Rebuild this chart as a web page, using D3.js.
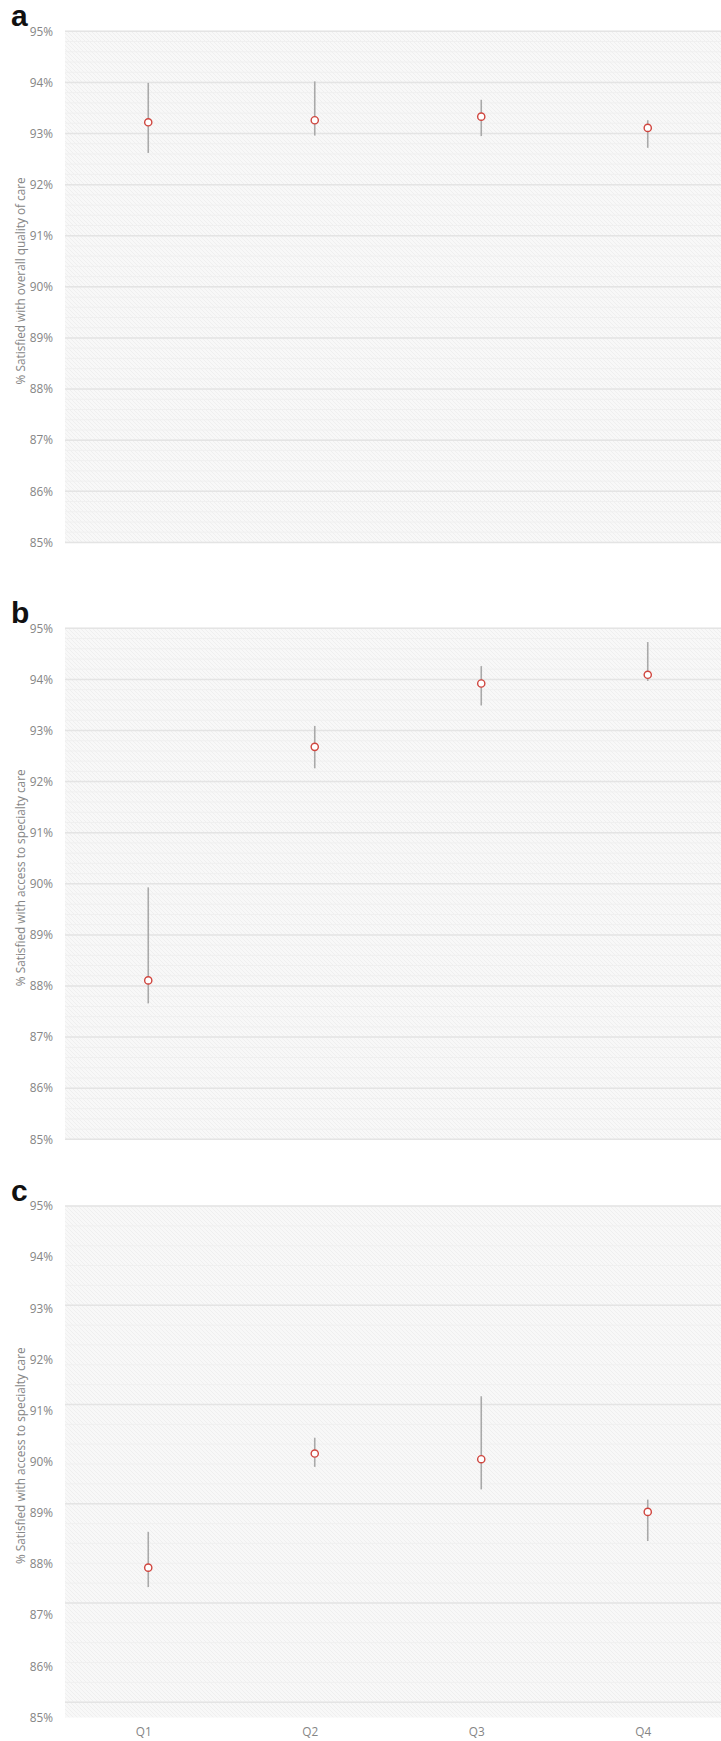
<!DOCTYPE html>
<html>
<head>
<meta charset="utf-8">
<script src="https://cdn.jsdelivr.net/npm/d3@7"></script>
<style>
  body { margin: 0; background: #ffffff; }
  svg { display: block; }
</style>
</head>
<body>
<svg id="chart"></svg>
<script>
let width = 721;
let height = 1741;

// data
let quarters = ["Q1", "Q2", "Q3", "Q4"];
let yTicks = [85, 86, 87, 88, 89, 90, 91, 92, 93, 94, 95];

let overallMean = [93.22, 93.26, 93.33, 93.11];
let overallLow = [92.62, 92.96, 92.95, 92.72];
let overallHigh = [93.99, 94.02, 93.66, 93.26];

let specialtyMean = [88.11, 92.68, 93.92, 94.09];
let specialtyLow = [87.66, 92.26, 93.49, 93.97];
let specialtyHigh = [89.93, 93.09, 94.26, 94.73];

let specialtyMeanC = [87.93, 90.16, 90.05, 89.02];
let specialtyLowC = [87.55, 89.9, 89.46, 88.45];
let specialtyHighC = [88.63, 90.47, 91.28, 89.26];

let panels = [
  {
    letter: "a",
    title: "% Satisfied with overall quality of care",
    mean: overallMean, low: overallLow, high: overallHigh,
    top: 31.3, bottom: 542.4, gridBottom: 542.4, gridStep: 1, xLabels: false,
  },
  {
    letter: "b",
    title: "% Satisfied with access to specialty care",
    mean: specialtyMean, low: specialtyLow, high: specialtyHigh,
    top: 628.3, bottom: 1139.3, gridBottom: 1139.3, gridStep: 1, xLabels: false,
  },
  {
    letter: "c",
    title: "% Satisfied with access to specialty care",
    mean: specialtyMeanC, low: specialtyLowC, high: specialtyHighC,
    top: 1206, bottom: 1717.5, gridBottom: 1702.2, gridStep: 2, xLabels: true,
  },
];

let plotLeft = 65;
let plotRight = 731;
let labelFont = "'Open Sans', 'DejaVu Sans', sans-serif";
let textGray = "#858585";

let svg = d3
  .select("svg#chart")
  .attr("width", width)
  .attr("height", height);

let xScale = d3
  .scalePoint()
  .domain(quarters)
  .range([plotLeft, plotRight])
  .padding(0.5);

let defs = svg.append("defs");

let hatch = defs
  .append("pattern")
  .attr("id", "hatch")
  .attr("patternUnits", "userSpaceOnUse")
  .attr("width", 4)
  .attr("height", 4);

hatch.append("rect").attr("width", 4).attr("height", 4).attr("fill", "#f8f8f8");
hatch
  .append("path")
  .attr("d", "M-1,-1 L5,5 M-1,3 L1,5 M3,-1 L5,1")
  .attr("stroke", "#efefef")
  .attr("stroke-width", 1);

panels.forEach((p) => drawPanel(p));

function drawPanel(p) {
  let g = svg.append("g");

  let yScale = d3.scaleLinear().domain([85, 95]).range([p.bottom, p.top]);
  let gridScale = d3.scaleLinear().domain([85, 95]).range([p.gridBottom, p.top]);

  // hatched plot background
  g.append("rect")
    .attr("x", plotLeft)
    .attr("y", p.top)
    .attr("width", plotRight - plotLeft)
    .attr("height", p.bottom - p.top)
    .attr("fill", "url(#hatch)");

  // minor grid lines
  let minorTicks = d3.range(85, 95.0001, p.gridStep / 5);
  g.append("g")
    .selectAll("line")
    .data(minorTicks)
    .join("line")
    .attr("x1", plotLeft)
    .attr("x2", plotRight)
    .attr("y1", (d) => gridScale(d))
    .attr("y2", (d) => gridScale(d))
    .attr("stroke", "#f0f0f0")
    .attr("stroke-width", 1);

  // major grid lines
  let majorTicks = d3.range(95, 84.999, -p.gridStep);
  g.append("g")
    .selectAll("line")
    .data(majorTicks)
    .join("line")
    .attr("x1", plotLeft)
    .attr("x2", plotRight)
    .attr("y1", (d) => gridScale(d))
    .attr("y2", (d) => gridScale(d))
    .attr("stroke", "#e4e4e4")
    .attr("stroke-width", 1.5);

  // y axis labels
  let yAxis = d3
    .axisLeft(yScale)
    .tickValues(yTicks)
    .tickSize(0)
    .tickPadding(12)
    .tickFormat((d) => d + "%");

  g.append("g")
    .attr("transform", `translate(${plotLeft}, 0)`)
    .call(yAxis)
    .call((a) => a.select(".domain").remove())
    .call((a) =>
      a.selectAll("text")
        .attr("fill", textGray)
        .style("font-family", labelFont)
        .style("font-size", "11.8px")
    );

  // y axis title
  g.append("text")
    .attr("transform", `translate(20, ${(p.top + p.bottom) / 2 - 6}) rotate(-90)`)
    .attr("text-anchor", "middle")
    .attr("dominant-baseline", "central")
    .attr("fill", textGray)
    .style("font-family", labelFont)
    .style("font-size", "11.8px")
    .text(p.title);

  // panel letter
  g.append("text")
    .attr("x", 11)
    .attr("y", p.top - 5)
    .attr("fill", "#111111")
    .style("font-family", "'Liberation Sans', Arial, sans-serif")
    .style("font-weight", "bold")
    .style("font-size", "30px")
    .text(p.letter);

  // x axis labels (only on the last panel)
  if (p.xLabels) {
    let xAxis = d3.axisBottom(xScale).tickSize(0).tickPadding(10);
    g.append("g")
      .attr("transform", `translate(0, ${p.bottom})`)
      .call(xAxis)
      .call((a) => a.select(".domain").remove())
      .call((a) =>
        a.selectAll("text")
          .attr("dx", -5)
          .attr("fill", textGray)
          .style("font-family", labelFont)
          .style("font-size", "11.8px")
      );
  }

  let rows = quarters.map((q, i) => ({
    q: q,
    mean: p.mean[i],
    low: p.low[i],
    high: p.high[i],
  }));

  // error bars
  g.append("g")
    .selectAll("line")
    .data(rows)
    .join("line")
    .attr("x1", (d) => xScale(d.q))
    .attr("x2", (d) => xScale(d.q))
    .attr("y1", (d) => yScale(d.high))
    .attr("y2", (d) => yScale(d.low))
    .attr("stroke", "#a9a9a9")
    .attr("stroke-width", 1.6);

  // means
  g.append("g")
    .selectAll("circle")
    .data(rows)
    .join("circle")
    .attr("cx", (d) => xScale(d.q))
    .attr("cy", (d) => yScale(d.mean))
    .attr("r", 3.6)
    .attr("fill", "#ffffff")
    .attr("stroke", "#d0463f")
    .attr("stroke-width", 1.4);
}
</script>
</body>
</html>
